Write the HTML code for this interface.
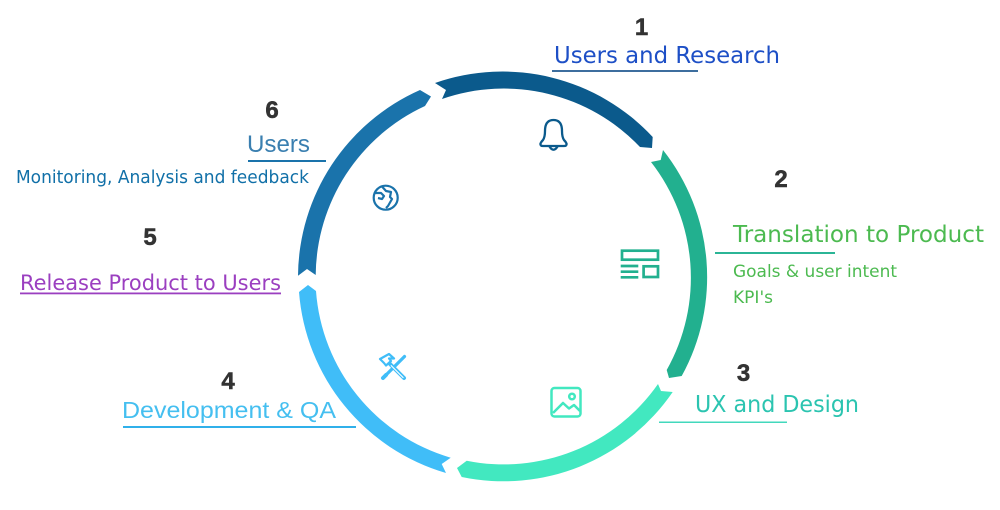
<!DOCTYPE html>
<html><head><meta charset="utf-8"><style>
html,body{margin:0;padding:0;background:#fff;width:1000px;height:510px;overflow:hidden}
svg{display:block}
text{font-family:"DejaVu Sans",sans-serif}
.n{font-family:"Liberation Sans",sans-serif;font-weight:bold;font-size:24px;fill:#333;stroke:#333;stroke-width:.5px;text-anchor:middle}
.l{font-family:"Liberation Sans",sans-serif}
</style></head><body>
<svg width="1000" height="510" viewBox="0 0 1000 510" xmlns="http://www.w3.org/2000/svg">
<rect width="1000" height="510" fill="#fff"/>
<path fill="#0b5a8c" d="M435 83 A205 205 0 0 1 652.7 137 L652 148 L640 147 A188 188 0 0 0 442 99 L446 90 Z"/>
<path fill="#22b08f" d="M663 150 A205 205 0 0 1 681.7 376 L669 378 L666.7 370 A188 188 0 0 0 651 162 L660.7 160 Z"/>
<path fill="#42e8c0" d="M672.7 392 A205 205 0 0 1 461.7 477 L457 468 L466.7 460.7 A188 188 0 0 0 658 384 L661 391 Z"/>
<path fill="#40bdf8" d="M308 285 L316 291 A188 188 0 0 0 450.7 457.7 L441.7 464 L446 473 A205 205 0 0 1 299 292 Z"/>
<path fill="#1a73ab" d="M298 275.7 A205 205 0 0 1 420 90 L431 96.5 L425 106 A188 188 0 0 0 315.7 275 L307 269 Z"/>

<g fill="none" stroke="#0b5a8c" stroke-width="2.300" stroke-linejoin="round" stroke-linecap="round">
<path d="M543 146 Q540 146 540.500 143.500 Q541 142 543 140 Q545 137 545 131 Q545 120 553.500 120 Q562 120 562 131 Q562 137 564 140 Q566 142 566.500 143.500 Q567 146 564 146 Z"/>
<path d="M549.500 146.500 Q553.500 153 557.500 146.500"/>
</g>
<g fill="none" stroke="#1a73ab" stroke-width="2.200" stroke-linejoin="round">
<circle cx="385.700" cy="197.700" r="12"/>
<path d="M375 193 L381 193 L384 196 L382 199 L378 198 M382 186.500 L386 191 L391 192 L390 197 L392 199 L388 206 L386 208"/>
</g>
<g fill="none" stroke="#22b08f" stroke-width="2.700">
<rect x="622" y="250.700" width="36" height="9"/>
<rect x="643.600" y="266.300" width="14.400" height="10.700"/>
<path d="M620.700 266H638.300M620.700 271.700H638.300M620.700 277.300H638.300"/>
</g>
<g fill="none" stroke="#42e8c0" stroke-width="2.500" stroke-linejoin="round">
<rect x="551.500" y="388" width="29" height="28.500" rx="3"/>
<circle cx="572" cy="396.500" r="2.800"/>
<path d="M553 413 L563 403 L569 408.500 L574 405 L580 411"/>
</g>
<g fill="none" stroke="#40bdf8" stroke-linecap="round" stroke-linejoin="round">
<path stroke-width="2.200" d="M380 359 L389 354 L394 358.500 L389 358.500 L391 361 L386 365.500 L384 363 Z"/>
<path stroke-width="4" d="M390 364 L404 378"/>
<path stroke-width="3.200" d="M404.500 356.500 L385 376"/>
<path stroke-width="4" d="M386 375 L383 378"/>
</g>
<path fill="#fff" d="M390.500 365.800 L403 378.300 L403.800 377.500 L391.300 365 Z"/>

<text class="n" x="641.500" y="35">1</text>
<text x="554" y="63" font-size="23" fill="#1d4fc6" textLength="226" lengthAdjust="spacingAndGlyphs">Users and Research</text>
<rect x="552" y="70" width="146" height="2" fill="#3d6e9e"/>

<text class="n" x="781" y="187">2</text>
<text x="733" y="242" font-size="23" fill="#4cba50" textLength="251" lengthAdjust="spacingAndGlyphs">Translation to Product</text>
<rect x="715" y="252" width="120" height="2" fill="#2bb596"/>
<text x="733" y="277" font-size="17" fill="#4cba50" textLength="164" lengthAdjust="spacingAndGlyphs">Goals &amp; user intent</text>
<text x="733" y="303" font-size="17" fill="#4cba50" textLength="40" lengthAdjust="spacingAndGlyphs">KPI's</text>

<text class="n" x="743.500" y="381">3</text>
<text x="695" y="412" font-size="23" fill="#2bc4b0" textLength="164" lengthAdjust="spacingAndGlyphs">UX and Design</text>
<rect x="659" y="421.500" width="128" height="1.500" fill="#42d8bc"/>

<text class="n" x="228" y="389">4</text>
<text class="l" x="122" y="418" font-size="23" fill="#45bff0" textLength="214" lengthAdjust="spacingAndGlyphs">Development &amp; QA</text>
<rect x="123" y="426" width="233" height="2" fill="#30b0ea"/>

<text class="n" x="150" y="245">5</text>
<text x="20" y="290" font-size="21" fill="#9b3fc0" textLength="261" lengthAdjust="spacingAndGlyphs">Release Product to Users</text>
<rect x="20" y="292.500" width="261" height="1.800" fill="#9b3fc0"/>

<text class="n" x="272" y="118">6</text>
<text class="l" x="247" y="152" font-size="24" fill="#3a7fb0" textLength="63" lengthAdjust="spacingAndGlyphs">Users</text>
<rect x="248" y="160" width="78" height="2" fill="#1a73ab"/>
<text x="16" y="183" font-size="18" fill="#1170a8" textLength="293" lengthAdjust="spacingAndGlyphs">Monitoring, Analysis and feedback</text>
</svg>
</body></html>
